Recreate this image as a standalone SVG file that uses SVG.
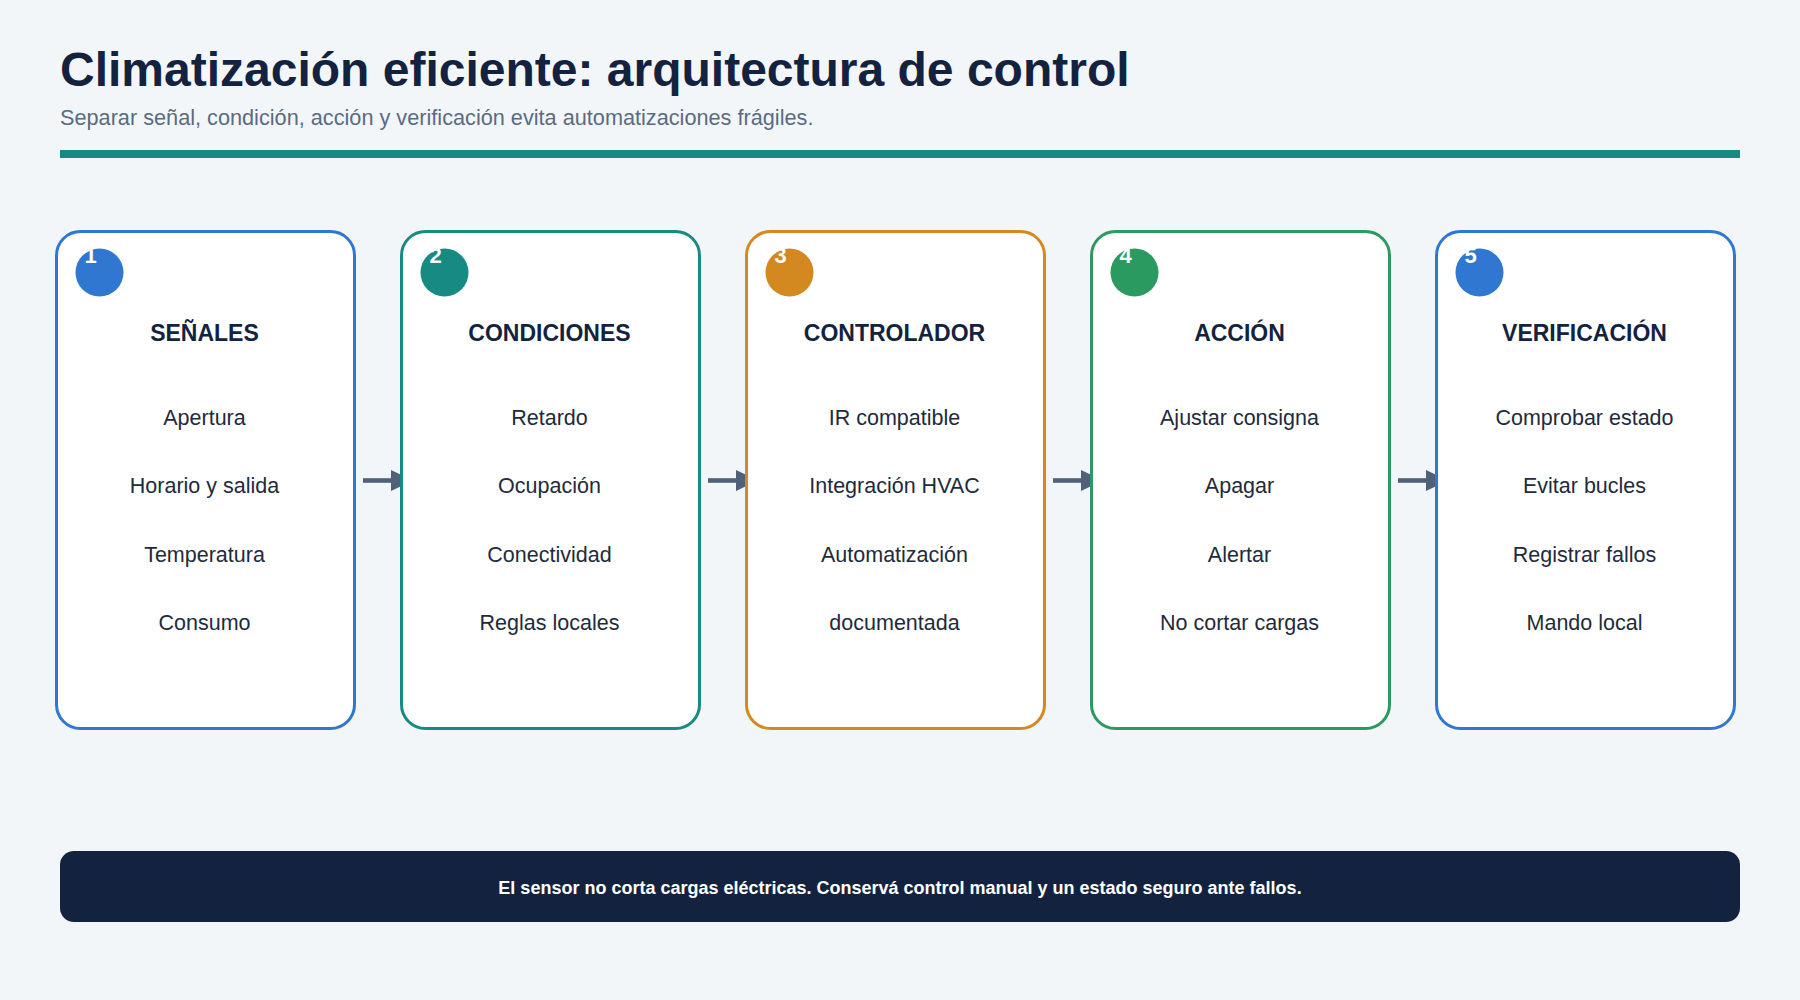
<svg xmlns="http://www.w3.org/2000/svg" width="1800" height="1000" viewBox="0 0 1800 1000">
<defs>
<style>
.bg{fill:#f3f6f9}
.title{font-family:"Liberation Sans",Arial,sans-serif;font-weight:bold;font-size:48px;fill:#13233f}
.sub{font-family:"Liberation Sans",Arial,sans-serif;font-size:21.7px;fill:#5a6b82}
.card{fill:#ffffff;stroke-width:3}
.num{font-family:"Liberation Sans",Arial,sans-serif;font-weight:bold;font-size:22px;fill:#ffffff}
.head{font-family:"Liberation Sans",Arial,sans-serif;font-weight:bold;font-size:23px;fill:#13233f;text-anchor:middle}
.item{font-family:"Liberation Sans",Arial,sans-serif;font-size:21.5px;fill:#1e2b3c;text-anchor:middle}
.conn line{stroke:#4f6078;stroke-width:4.6}
.conn polygon{fill:#4f6078}
.foot{font-family:"Liberation Sans",Arial,sans-serif;font-weight:bold;font-size:18px;fill:#ffffff;text-anchor:middle}
</style>
</defs>
<rect class="bg" x="0" y="0" width="1800" height="1000"/>
<text class="title" x="60" y="86">Climatización eficiente: arquitectura de control</text>
<text class="sub" x="60" y="125">Separar señal, condición, acción y verificación evita automatizaciones frágiles.</text>
<rect x="60" y="150" width="1680" height="8" fill="#178a84"/>

<g id="connectors" class="conn">
<line x1="363" y1="480.5" x2="392" y2="480.5"/><polygon points="391,470 391,491 413,480.5"/>
<line x1="708" y1="480.5" x2="737" y2="480.5"/><polygon points="736,470 736,491 758,480.5"/>
<line x1="1053" y1="480.5" x2="1082" y2="480.5"/><polygon points="1081,470 1081,491 1103,480.5"/>
<line x1="1398" y1="480.5" x2="1427" y2="480.5"/><polygon points="1426,470 1426,491 1448,480.5"/>
</g>

<g id="node1">
<rect class="card" x="56.5" y="231.5" width="298" height="497" rx="24" stroke="#2f77d1"/>
<circle cx="99.5" cy="272.5" r="24" fill="#2f77d1"/>
<text class="num" x="84.5" y="262.5">1</text>
<text class="head" x="204.5" y="341">SEÑALES</text>
<text class="item" x="204.5" y="425">Apertura</text>
<text class="item" x="204.5" y="493.3">Horario y salida</text>
<text class="item" x="204.5" y="561.6">Temperatura</text>
<text class="item" x="204.5" y="630">Consumo</text>
</g>

<g id="node2">
<rect class="card" x="401.5" y="231.5" width="298" height="497" rx="24" stroke="#178a84"/>
<circle cx="444.5" cy="272.5" r="24" fill="#178a84"/>
<text class="num" x="429.5" y="262.5">2</text>
<text class="head" x="549.5" y="341">CONDICIONES</text>
<text class="item" x="549.5" y="425">Retardo</text>
<text class="item" x="549.5" y="493.3">Ocupación</text>
<text class="item" x="549.5" y="561.6">Conectividad</text>
<text class="item" x="549.5" y="630">Reglas locales</text>
</g>

<g id="node3">
<rect class="card" x="746.5" y="231.5" width="298" height="497" rx="24" stroke="#d3891f"/>
<circle cx="789.5" cy="272.5" r="24" fill="#d3891f"/>
<text class="num" x="774.5" y="262.5">3</text>
<text class="head" x="894.5" y="341">CONTROLADOR</text>
<text class="item" x="894.5" y="425">IR compatible</text>
<text class="item" x="894.5" y="493.3">Integración HVAC</text>
<text class="item" x="894.5" y="561.6">Automatización</text>
<text class="item" x="894.5" y="630">documentada</text>
</g>

<g id="node4">
<rect class="card" x="1091.5" y="231.5" width="298" height="497" rx="24" stroke="#2b9a60"/>
<circle cx="1134.5" cy="272.5" r="24" fill="#2b9a60"/>
<text class="num" x="1119.5" y="262.5">4</text>
<text class="head" x="1239.5" y="341">ACCIÓN</text>
<text class="item" x="1239.5" y="425">Ajustar consigna</text>
<text class="item" x="1239.5" y="493.3">Apagar</text>
<text class="item" x="1239.5" y="561.6">Alertar</text>
<text class="item" x="1239.5" y="630">No cortar cargas</text>
</g>

<g id="node5">
<rect class="card" x="1436.5" y="231.5" width="298" height="497" rx="24" stroke="#2f77d1"/>
<circle cx="1479.5" cy="272.5" r="24" fill="#2f77d1"/>
<text class="num" x="1464.5" y="262.5">5</text>
<text class="head" x="1584.5" y="341">VERIFICACIÓN</text>
<text class="item" x="1584.5" y="425">Comprobar estado</text>
<text class="item" x="1584.5" y="493.3">Evitar bucles</text>
<text class="item" x="1584.5" y="561.6">Registrar fallos</text>
<text class="item" x="1584.5" y="630">Mando local</text>
</g>

<g id="footer">
<rect x="60" y="851" width="1680" height="71" rx="14" fill="#13233f"/>
<text class="foot" x="900" y="893.5">El sensor no corta cargas eléctricas. Conservá control manual y un estado seguro ante fallos.</text>
</g>
</svg>
